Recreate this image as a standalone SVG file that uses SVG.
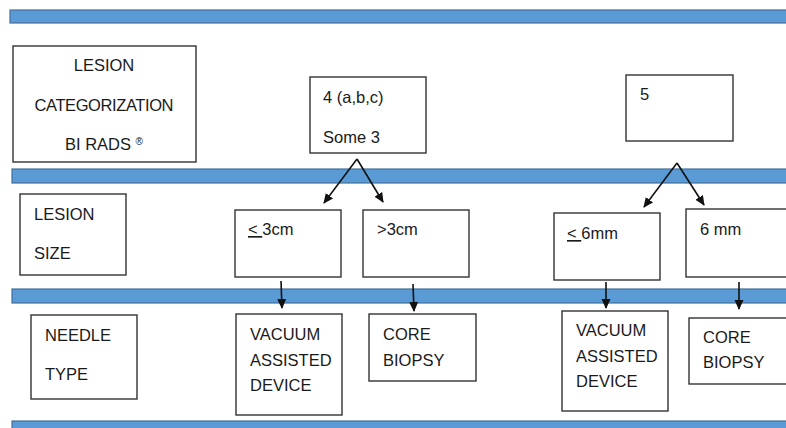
<svg xmlns="http://www.w3.org/2000/svg" width="786" height="428" viewBox="0 0 786 428">
<style>
.band{fill:#5b9bd5;stroke:#41719c;stroke-width:1.2}
.box{fill:#fff;stroke:#333;stroke-width:1.4}
.t{font-family:"Liberation Sans",Arial,sans-serif;font-size:16.5px;fill:#1a1a1a}
.c{stroke:#111;stroke-width:1.6;fill:none;marker-end:url(#ah)}
</style>
<defs>
<marker id="ah" markerWidth="10" markerHeight="10" refX="9" refY="5" orient="auto" markerUnits="userSpaceOnUse">
<path d="M0,0.5 L10,5 L0,9.5 Z" fill="#111"/>
</marker>
</defs>
<rect x="0" y="0" width="786" height="428" fill="#fff"/>
<g id="bands">
<rect class="band" x="10" y="10" width="790" height="13"/>
<rect class="band" x="12" y="169" width="790" height="14"/>
<rect class="band" x="12" y="289" width="790" height="14"/>
<rect class="band" x="12" y="421" width="790" height="14"/>
</g>
<g id="connectors">
<path class="c" d="M357,159 L324,203"/>
<path class="c" d="M357,159 L383,202"/>
<path class="c" d="M677,163 L644,207"/>
<path class="c" d="M677,163 L704,205"/>
<path class="c" d="M281,281 L282,308"/>
<path class="c" d="M413,284 L414,311"/>
<path class="c" d="M606,282 L606,308"/>
<path class="c" d="M739,282 L739,309"/>
</g>
<g id="n-birads">
<rect class="box" x="13" y="46" width="183" height="116"/>
<text class="t" x="104" y="71" text-anchor="middle">LESION</text>
<text class="t" x="104" y="111" text-anchor="middle" textLength="139">CATEGORIZATION</text>
<text class="t" x="104" y="150" text-anchor="middle">BI RADS <tspan font-size="10" dy="-5">®</tspan></text>
</g>
<g id="n-cat4">
<rect class="box" x="310" y="77" width="116" height="76"/>
<text class="t" x="323" y="103">4 (a,b,c)</text>
<text class="t" x="323" y="143">Some 3</text>
</g>
<g id="n-cat5">
<rect class="box" x="626" y="75" width="107" height="66"/>
<text class="t" x="640" y="100">5</text>
</g>
<g id="n-size">
<rect class="box" x="20" y="194" width="106" height="81"/>
<text class="t" x="34" y="220">LESION</text>
<text class="t" x="34" y="259">SIZE</text>
</g>
<g id="n-le3cm">
<rect class="box" x="235" y="210" width="106" height="67"/>
<text class="t" x="248" y="235"><tspan text-decoration="underline">&lt; </tspan>3cm</text>
</g>
<g id="n-gt3cm">
<rect class="box" x="363" y="210" width="106" height="67"/>
<text class="t" x="377" y="235">&gt;3cm</text>
</g>
<g id="n-le6mm">
<rect class="box" x="554" y="213" width="106" height="67"/>
<text class="t" x="567" y="239"><tspan text-decoration="underline">&lt; </tspan>6mm</text>
</g>
<g id="n-6mm">
<rect class="box" x="686" y="209" width="106" height="68"/>
<text class="t" x="700" y="235">6 mm</text>
</g>
<g id="n-needle">
<rect class="box" x="31" y="315" width="106" height="84"/>
<text class="t" x="45" y="341">NEEDLE</text>
<text class="t" x="45" y="380">TYPE</text>
</g>
<g id="n-vac1">
<rect class="box" x="236" y="314" width="106" height="101"/>
<text class="t" x="250" y="340">VACUUM</text>
<text class="t" x="250" y="366">ASSISTED</text>
<text class="t" x="250" y="391">DEVICE</text>
</g>
<g id="n-core1">
<rect class="box" x="369" y="314" width="107" height="67"/>
<text class="t" x="383" y="340">CORE</text>
<text class="t" x="383" y="366">BIOPSY</text>
</g>
<g id="n-vac2">
<rect class="box" x="562" y="311" width="106" height="100"/>
<text class="t" x="576" y="336">VACUUM</text>
<text class="t" x="576" y="362">ASSISTED</text>
<text class="t" x="576" y="387">DEVICE</text>
</g>
<g id="n-core2">
<rect class="box" x="689" y="318" width="106" height="66"/>
<text class="t" x="703" y="343">CORE</text>
<text class="t" x="703" y="368">BIOPSY</text>
</g>
</svg>
